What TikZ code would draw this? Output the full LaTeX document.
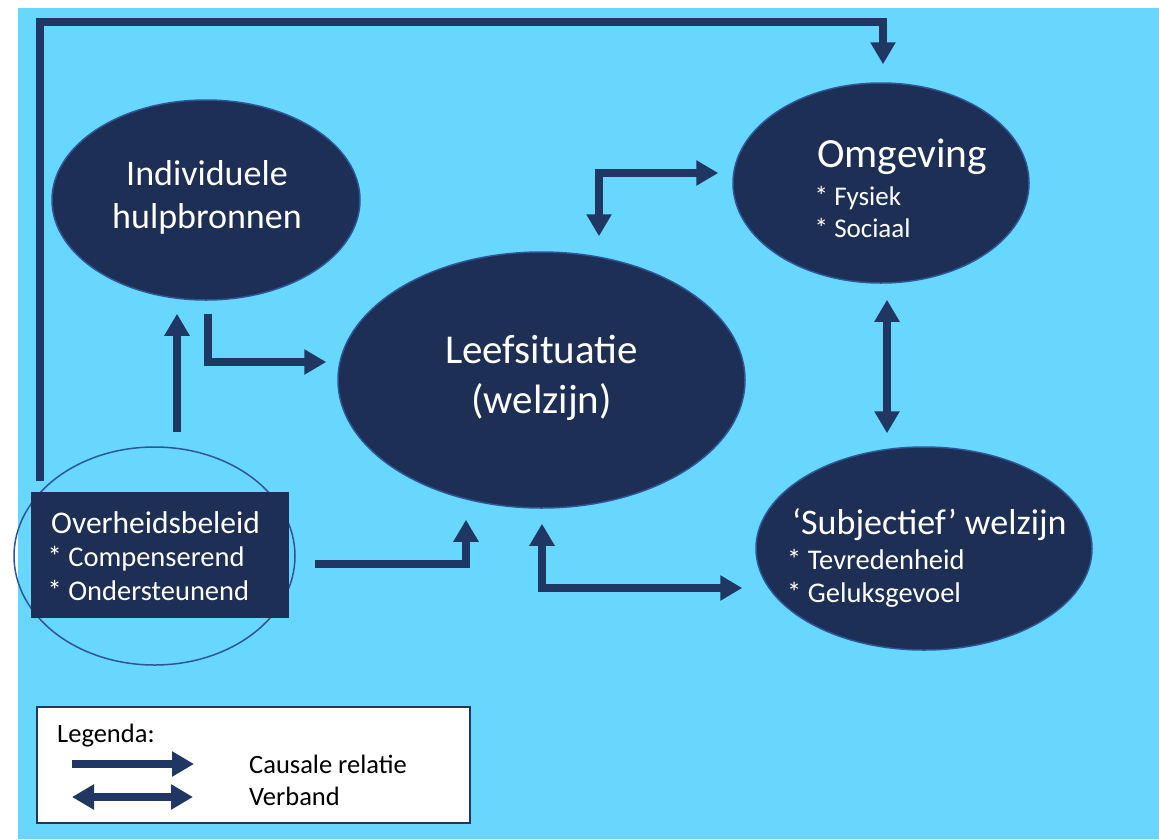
\documentclass[tikz,border=0pt]{standalone}
\usepackage{fontspec}
\setmainfont{Carlito}
\usetikzlibrary{arrows.meta,shapes.geometric}
\definecolor{bg}{HTML}{67D7FE}
\definecolor{navy}{HTML}{1E2F55}
\definecolor{arr}{HTML}{203763}
\definecolor{edge}{HTML}{2F5597}
\begin{document}
\begin{tikzpicture}[x=1pt,y=-1pt,
  blob/.style={ellipse, fill=navy, draw=edge, line width=1.5pt, inner sep=0pt},
  wtxt/.style={text=white, inner sep=0pt, anchor=base west, align=left},
  ctxt/.style={text=white, inner sep=0pt, anchor=base, align=center},
  btxt/.style={text=black, inner sep=0pt, anchor=base west, align=left},
  tipA/.tip={Triangle[length=22pt,width=24pt]},
  causal/.style={draw=arr, line width=8pt, line join=miter, -tipA},
  assoc/.style={draw=arr, line width=8pt, line join=miter, tipA-tipA},
]
\useasboundingbox (0,0) rectangle (1159,839);
\fill[bg] (18,8) rectangle (1159,839);

% nodes
\node[blob, minimum width=308, minimum height=200] (ind) at (206,200) {};
\node[blob, minimum width=407, minimum height=256] (lf) at (541.5,380) {};
\node[blob, minimum width=296, minimum height=200] (omg) at (881,183) {};
\node[blob, minimum width=336, minimum height=203] (sub) at (924,548.5) {};
\node[ellipse, draw=edge, line width=1.5pt, minimum width=281, minimum height=218, inner sep=0pt] (ove) at (154.5,556) {};
\node[rectangle, fill=navy, minimum width=258, minimum height=126, inner sep=0pt] (ovr) at (160,555) {};
\node[rectangle, fill=white, draw=arr, line width=1.5pt, minimum width=433, minimum height=116, inner sep=0pt] (leg) at (253.5,765) {};

% texts (base anchor of a multi-line node = baseline of its last line)
\node[ctxt, font=\fontsize{36}{43}\selectfont] (indt) at (207,228) {Individuele\\hulpbronnen};
\node[ctxt, font=\fontsize{41}{50}\selectfont] (lft) at (541.5,413) {Leefsituatie\\(welzijn)};
\node[wtxt, font=\fontsize{41.5}{48}\selectfont] (omgt) at (817,167) {Omgeving};
\node[wtxt, font=\fontsize{27}{32}\selectfont] (omgl) at (814.5,237) {* Fysiek\\* Sociaal};
\node[wtxt, font=\fontsize{36}{43}\selectfont] (subt) at (792,534) {‘Subjectief’ welzijn};
\node[wtxt, font=\fontsize{28.5}{33}\selectfont] (subl) at (787,602) {* Tevredenheid\\* Geluksgevoel};
\node[wtxt, font=\fontsize{31.5}{38}\selectfont] (ovt) at (51,533) {Overheidsbeleid};
\node[wtxt, font=\fontsize{28.5}{33.5}\selectfont] (ovl) at (47.5,600) {* Compenserend\\* Ondersteunend};
\node[btxt, font=\fontsize{26.5}{32}\selectfont] (legt) at (57,742) {Legenda:};
\node[btxt, font=\fontsize{26.5}{32}\selectfont] (legl) at (249,805) {Causale relatie\\Verband};

% connectors
\draw[causal] ([shift={(-114.5,35)}]ove.north) |- ([shift={(2,-60)}]omg.north) -- ([shift={(2,-18)}]omg.north);
\draw[causal] ([shift={(22.5,-14)}]ove.north) -- ([shift={(-29,13)}]ind.south);
\draw[causal] ([shift={(2,13)}]ind.south) |- ([shift={(-11,-18)}]lf.west);
\draw[causal] ([shift={(19,8)}]ove.east) -| ([shift={(-75.5,11)}]lf.south);
\draw[assoc] ([shift={(0.5,15)}]lf.south) |- ([shift={(-13,39.5)}]sub.west);
\draw[assoc] ([shift={(57.5,-15)}]lf.north) |- ([shift={(-14,-10)}]omg.west);
\draw[assoc] ([shift={(6,16)}]omg.south) -- ([shift={(-37,-13)}]sub.north);

% legend arrows
\coordinate (la1) at (72,764);
\coordinate (lb1) at (194,764);
\coordinate (la2) at (72,797);
\coordinate (lb2) at (193,797);
\draw[causal] (la1) -- (lb1);
\draw[assoc] (la2) -- (lb2);
\end{tikzpicture}
\end{document}
